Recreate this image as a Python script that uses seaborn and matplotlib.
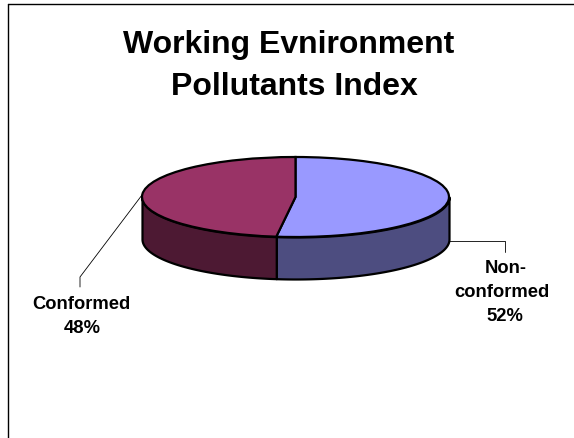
import matplotlib
matplotlib.use("Agg")
import matplotlib.pyplot as plt
import numpy as np
import seaborn as sns
from matplotlib.lines import Line2D

sns.set_theme(style="white")
plt.rcParams["font.family"] = ["Liberation Sans", "DejaVu Sans"]

# Chart values
title_lines = ["Working Evnironment", "Pollutants Index"]
categories = ["Non-\nconformed", "Conformed"]
values = [52, 48]
top_colors = sns.color_palette(["#9999FF", "#993366"])
side_colors = sns.color_palette(["#4D4D80", "#4D1933"])

# Layout in pixels of the 574x439 picture
W, H = 574, 439
CX, CY = 295.5, 198
RX, RY = 153.5, 40
DEPTH = 42 / RY


def fig_xy(px, py):
    return px / W, 1 - py / H


fig = plt.figure(figsize=(W / 100, H / 100), dpi=100, facecolor="white")
ax = fig.add_axes([0, 0, 1, 1])

# Side of the disc, drawn first so the top covers its upper edge
shares = np.array(values) / sum(values) * 360
ends = np.cumsum(shares)
starts = ends - shares
for start, end, color in zip(starts, ends, side_colors):
    lo, hi = max(start, 90), min(end, 270)
    angles = np.radians(np.linspace(lo, hi, 120))
    ax.fill_between(
        np.sin(angles),
        np.cos(angles),
        np.cos(angles) - DEPTH,
        facecolor=color,
        edgecolor="black",
        linewidth=1.6,
    )

# Top of the disc
ax.pie(
    values,
    colors=top_colors,
    startangle=90,
    counterclock=False,
    radius=1,
    wedgeprops={"edgecolor": "black", "linewidth": 1.6},
)

# The pie sets an equal aspect, undo it so the disc is flattened
ax.set_aspect("auto")
ax.set_xlim(-CX / RX, (W - CX) / RX)
ax.set_ylim((CY - H) / RY, CY / RY)
ax.set_position([0, 0, 1, 1])

# Slide frame
for xs, ys in [((8, 8), (5, H)), ((8, W), (5, 5))]:
    fx, fy = zip(*[fig_xy(x, y) for x, y in zip(xs, ys)])
    fig.add_artist(Line2D(fx, fy, color="black", lw=1.0))

# Leader lines
for xs, ys in [((142, 80, 80), (196, 278, 288)), ((449, 505, 505), (241.5, 241.5, 253))]:
    fx, fy = zip(*[fig_xy(x, y) for x, y in zip(xs, ys)])
    fig.add_artist(Line2D(fx, fy, color="black", lw=0.6))

# Title, each line placed on its own
for line, (px, py) in zip(title_lines, [(289, 53), (294.5, 95)]):
    tx, ty = fig_xy(px, py)
    fig.text(tx, ty, line, ha="center", va="baseline", fontsize=23,
             fontweight="bold", color="black")

# Data labels, one text per line
label_pos = [[(506, 273), (502, 297), (505, 321)], [(81, 309), (82, 333)]]
for cat, val, places in zip(categories, values, label_pos):
    for line, (px, py) in zip(cat.split("\n") + [f"{val}%"], places):
        lx, ly = fig_xy(px, py)
        fig.text(lx, ly, line, ha="center", va="baseline", fontsize=13.2,
                 fontweight="bold", color="black")

fig.savefig("out.png", dpi=100)
